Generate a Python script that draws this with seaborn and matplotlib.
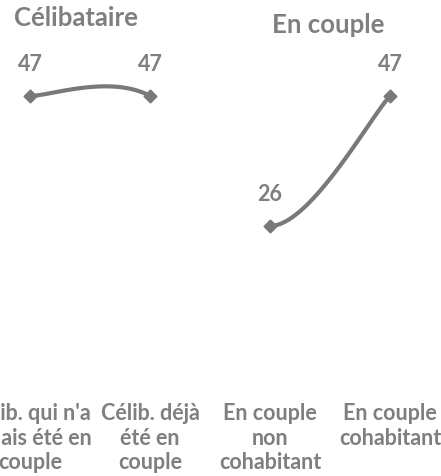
import numpy as np
import pandas as pd
import matplotlib
matplotlib.use("Agg")
import matplotlib.pyplot as plt
import seaborn as sns

categories = ["Célib. qui n'a\njamais été en\ncouple", "Célib. déjà\nété en\ncouple",
              "En couple\nnon\ncohabitant", "En couple\ncohabitant"]
values = [47, 47, 26, 47]
groups = ["Célibataire", "En couple"]
segments = [(0, 1), (2, 3)]  # drawn segments (gap between groups)

sns.set_theme(style="white")
plt.rcParams['font.family'] = ['Lato', 'DejaVu Sans']

GRAY = "#7f7f7f"
LINE = "#797979"

fig = plt.figure(figsize=(4.41, 4.77), dpi=100)
ax = fig.add_axes([0, 89/477, 1, 348/477])
ax.set_xlim(-0.25, 3.425)
ax.set_ylim(0, 56.2)

# Smoothed curve (Catmull-Rom style, like Excel smoothing) computed in pixel-like space
sx, sy = 120.0, 6.19
P = np.array([[i * sx, v * sy] for i, v in enumerate(values)])
n = len(P)
M = np.zeros_like(P)
for i in range(n):
    if i == 0:
        M[i] = (P[1] - P[0]) / 2
    elif i == n - 1:
        M[i] = (P[-1] - P[-2]) / 2
    else:
        M[i] = (P[i + 1] - P[i - 1]) / 2

t = np.linspace(0, 1, 80)[:, None]
for a, b in segments:
    c0, c1, c2, c3 = P[a], P[a] + M[a] / 3, P[b] - M[b] / 3, P[b]
    B = ((1 - t) ** 3) * c0 + 3 * ((1 - t) ** 2) * t * c1 + 3 * (1 - t) * t ** 2 * c2 + t ** 3 * c3
    df = pd.DataFrame({"x": B[:, 0] / sx, "y": B[:, 1] / sy})
    sns.lineplot(data=df, x="x", y="y", sort=False, estimator=None, ax=ax,
                 color=LINE, linewidth=3.0)

pts = pd.DataFrame({"x": range(len(values)), "y": values})
sns.scatterplot(data=pts, x="x", y="y", marker="D", s=40, color=LINE,
                edgecolor=LINE, linewidth=1.2, ax=ax, zorder=5)

for i, v in enumerate(values):
    ax.annotate(str(v), (i, v), xytext=(0, 16), textcoords="offset points",
                ha="center", va="bottom", fontsize=15.5, fontweight="bold", color=GRAY)

# group titles
fig.text(76 / 441, 1 - 18 / 477, groups[0], ha="center", va="center",
         fontsize=18.5, fontweight="bold", color=GRAY)
fig.text(328 / 441, 1 - 25 / 477, groups[1], ha="center", va="center",
         fontsize=18.5, fontweight="bold", color=GRAY)

ax.set_xticks(range(len(categories)))
ax.set_xticklabels(categories, fontsize=15.5, fontweight="bold", color=GRAY,
                   linespacing=1.2, va="top")
ax.tick_params(axis="x", length=0, pad=11)
ax.set_yticks([])
ax.set_xlabel("")
ax.set_ylabel("")
for s in ax.spines.values():
    s.set_visible(False)

fig.savefig("out.png", dpi=100)
